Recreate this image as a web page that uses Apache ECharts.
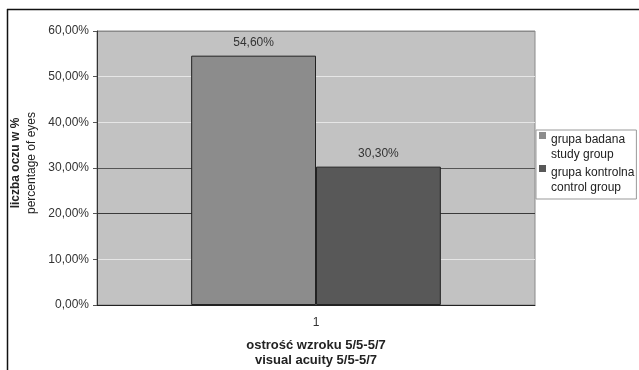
<!DOCTYPE html>
<html>
<head>
<meta charset="utf-8">
<script src="https://cdn.jsdelivr.net/npm/echarts@6/dist/echarts.min.js"></script>
<style>
  html, body { margin: 0; padding: 0; background: #fff; }
  #chart { width: 639px; height: 370px; }
</style>
</head>
<body>
<div id="chart"></div>
<script>
// Share of eyes with visual acuity 5/5-5/7, study vs control group
const categories = ['1'];
const studyGroup = [54.6];
const controlGroup = [30.3];
const seriesNames = ['grupa badana\nstudy group', 'grupa kontrolna\ncontrol group'];
const yTicks = [0, 10, 20, 30, 40, 50, 60];

const fmt = v => v.toFixed(2).replace('.', ',') + '%';
const font = 'Liberation Sans, Arial, sans-serif';

// legend marker: square at the top, spacer speck at the bottom so the
// marker lines up with the first line of a two-line legend entry
const topSquare = 'path://M0,0h7v7h-7z M0,30h0.01v0.01h-0.01z';

const chart = echarts.init(document.getElementById('chart'), null, { renderer: 'canvas' });

chart.setOption({
  animation: false,
  backgroundColor: '#fff',
  textStyle: { fontFamily: font },
  graphic: [
    { type: 'line', shape: { x1: 7, y1: 9.5, x2: 639, y2: 9.5 }, style: { stroke: '#111', lineWidth: 1.5 } },
    { type: 'line', shape: { x1: 7.5, y1: 9, x2: 7.5, y2: 370 }, style: { stroke: '#111', lineWidth: 1.5 } }
  ],
  grid: {
    left: 97, top: 31, width: 438, height: 274,
    containLabel: false,
    outerBoundsMode: 'none',
    show: true, backgroundColor: '#c2c2c2', borderColor: '#8a8a8a', borderWidth: 1
  },
  legend: {
    orient: 'vertical',
    left: 536, top: 130,
    itemWidth: 7, itemHeight: 30, itemGap: 3,
    padding: [2, 2, 4, 3],
    borderColor: '#999', borderWidth: 1, backgroundColor: '#fff',
    icon: topSquare,
    itemStyle: { borderWidth: 0 },
    textStyle: { fontSize: 12, color: '#222', lineHeight: 15, fontFamily: font },
    data: seriesNames
  },
  xAxis: {
    type: 'category',
    data: categories,
    name: 'ostrość wzroku 5/5-5/7\nvisual acuity 5/5-5/7',
    nameLocation: 'middle',
    nameGap: 33,
    nameTextStyle: { fontSize: 13, fontWeight: 'bold', color: '#222', lineHeight: 15 },
    axisLine: { lineStyle: { color: '#222', width: 1 } },
    axisTick: { length: 4, lineStyle: { color: '#555' } },
    axisLabel: { fontSize: 12, color: '#333', margin: 12 }
  },
  yAxis: {
    type: 'value',
    min: 0, max: 60, interval: 10,
    name: '{b|liczba oczu w %}\n{n|percentage of eyes}',
    nameLocation: 'middle',
    nameRotate: 90,
    nameGap: 53,
    nameTextStyle: {
      padding: [0, 0, 0, 10],
      rich: {
        b: { fontSize: 12, fontWeight: 'bold', color: '#222', lineHeight: 16 },
        n: { fontSize: 12, color: '#222', lineHeight: 16 }
      }
    },
    axisLine: { show: true, lineStyle: { color: '#333', width: 1 } },
    axisTick: { show: true, length: 4, lineStyle: { color: '#555' } },
    axisLabel: { fontSize: 12, color: '#333', margin: 8, formatter: v => fmt(v) },
    splitLine: {
      show: true,
      lineStyle: {
        color: ['#8a8a8a', '#e6e6e6', '#3a3a3a', '#555555', '#e6e6e6', '#e6e6e6', '#8a8a8a'],
        width: 1
      }
    }
  },
  series: [
    {
      name: seriesNames[0],
      type: 'bar',
      data: studyGroup,
      barGap: '0%',
      barCategoryGap: '43%',
      itemStyle: { color: '#8c8c8c', borderColor: '#222', borderWidth: 1 },
      label: { show: true, position: 'top', distance: 7, fontSize: 12, color: '#333', formatter: p => fmt(p.value) }
    },
    {
      name: seriesNames[1],
      type: 'bar',
      data: controlGroup,
      itemStyle: { color: '#585858', borderColor: '#222', borderWidth: 1 },
      label: { show: true, position: 'top', distance: 7, fontSize: 12, color: '#333', formatter: p => fmt(p.value) }
    }
  ]
});
</script>
</body>
</html>
